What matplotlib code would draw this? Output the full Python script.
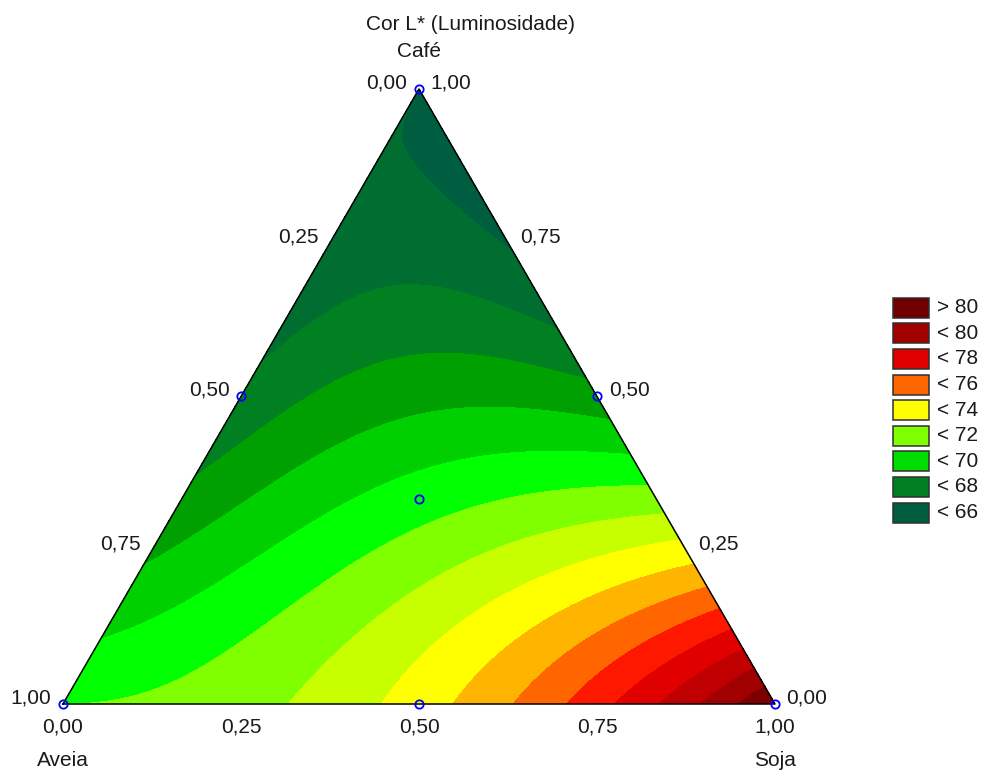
import numpy as np
import matplotlib
matplotlib.use("Agg")
import matplotlib.pyplot as plt
import matplotlib.tri as mtri
from matplotlib.patches import Rectangle

plt.rcParams['font.family'] = ['Liberation Sans', 'DejaVu Sans']

# design points of the mixture (fractions) and L*
aveia = np.array([1.0, 0.0, 0.0, 0.5, 0.5, 0.0, 1 / 3])
soja = np.array([0.0, 1.0, 0.0, 0.5, 0.0, 0.5, 1 / 3])
cafe = np.array([0.0, 0.0, 1.0, 0.0, 0.5, 0.5, 1 / 3])
lum = np.array([71.0, 81.0, 66.0, 73.5, 67.25, 68.4, 70.5])

# contour bands, one unit each (low -> high)
levels = [66, 67, 68, 69, 70, 71, 72, 73, 74, 75, 76, 77, 78, 79, 80]
band_colors = ['#005E40', '#006E30', '#008020', '#00A000', '#00D000', '#00FF00',
               '#80FF00', '#C8FF00', '#FFFF00', '#FFB400', '#FF6600', '#FF1800',
               '#E00000', '#C00000', '#A00000', '#7C0000']

legend_labels = ['> 80', '< 80', '< 78', '< 76', '< 74', '< 72', '< 70', '< 68', '< 66']
legend_colors = ['#700000', '#A00000', '#E00000', '#FF6600', '#FFFF00', '#80FF00',
                 '#00DD00', '#008020', '#005E40']

ticks = [0.0, 0.25, 0.5, 0.75, 1.0]


def terms(a, s, c):
    # Scheffe special cubic model
    return np.column_stack([a, s, c, a * s, a * c, s * c, a * s * c])


coef = np.linalg.lstsq(terms(aveia, soja, cafe), lum, rcond=None)[0]


def to_xy(s, c):
    return s + c / 2, c


def fmt(v):
    return f"{v:.2f}".replace('.', ',')


W, H = 984, 771
fig = plt.figure(figsize=(W / 100, H / 100), dpi=100)
# triangle: Aveia (63,704), Soja (775,704), Cafe (419,89) in pixels
ax = fig.add_axes([63 / W, (H - 704) / H, 712 / W, 615 / H])
ax.set_xlim(0, 1)
ax.set_ylim(0, 1)
ax.axis('off')

n = 160
ii, jj = np.meshgrid(np.arange(n + 1), np.arange(n + 1))
keep = (ii + jj) <= n
s_g = ii[keep] / n
c_g = jj[keep] / n
a_g = np.clip(1 - s_g - c_g, 0, 1)
xg, yg = to_xy(s_g, c_g)
z = terms(a_g, s_g, c_g) @ coef
tri = mtri.Triangulation(xg, yg)
ax.tricontourf(tri, z, levels=[40] + levels + [100], colors=band_colors, antialiased=False)

ax.plot([0, 1, 0.5, 0], [0, 0, 1, 0], color='black', lw=1.1, clip_on=False)

px, py = to_xy(soja, cafe)
ax.plot(px, py, 'o', mfc='none', mec='#0000FF', ms=6, mew=1.3, clip_on=False, zorder=5)

tk = dict(fontsize=15, color='#1a1a1a', ha='center', va='center', textcoords='offset pixels',
          annotation_clip=False)
for v in ticks:
    # left edge: Aveia, right edge: Cafe, bottom: Soja
    ax.annotate(fmt(v), to_xy(0, 1 - v), xytext=(-32, 6), **tk)
    ax.annotate(fmt(v), to_xy(1 - v, v), xytext=(32, 6), **tk)
    ax.annotate(fmt(v), to_xy(v, 0), xytext=(0, -23), **tk)

ax.annotate('Aveia', (0, 0), xytext=(0, -56), **tk)
ax.annotate('Soja', (1, 0), xytext=(0, -56), **tk)
ax.annotate('Café', (0.5, 1), xytext=(0, 37), **tk)

fig.text(471 / W, 1 - 25 / H, 'Cor L* (Luminosidade)', fontsize=15, color='#1a1a1a',
         ha='center', va='center')

# legend
lax = fig.add_axes([0, 0, 1, 1])
lax.set_xlim(0, W)
lax.set_ylim(H, 0)
lax.axis('off')
for i, (lab, col) in enumerate(zip(legend_labels, legend_colors)):
    top = 297.7 + i * 25.6
    lax.add_patch(Rectangle((893, top), 36, 20, facecolor=col, edgecolor='#303030', lw=1.1))
    lax.text(937, top + 10, lab, fontsize=15, color='#1a1a1a', ha='left', va='center')

fig.savefig('out.png', dpi=100)
